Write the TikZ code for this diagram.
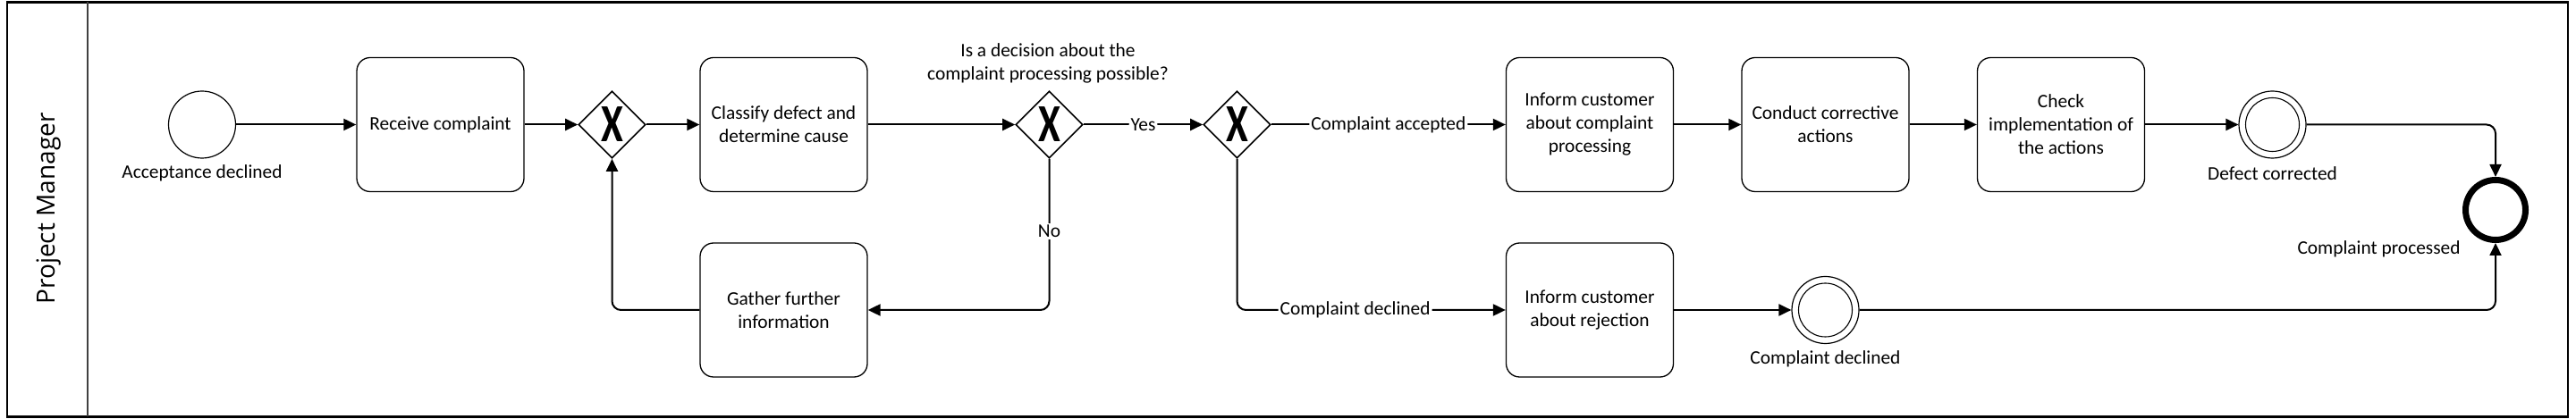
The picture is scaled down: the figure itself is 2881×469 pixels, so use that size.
\documentclass[tikz,border=0pt]{standalone}
\usepackage{fontspec}
\usepackage{graphicx}
\setmainfont{Carlito}
\newfontfamily\lanefont{Open Sans}
\usetikzlibrary{shapes.geometric,arrows.meta}
\newcommand{\xmark}{\scalebox{0.75}[1]{\fontsize{30}{30}\selectfont\bfseries X}}
\tikzset{
  task/.style={draw, rounded corners=7.5pt, minimum width=93.5pt, minimum height=75pt,
    align=center, line width=0.65pt, inner sep=2pt},
  gw/.style={diamond, draw, line width=0.8pt, minimum width=37.5pt, minimum height=37.5pt,
    inner sep=0pt, label={[inner sep=0pt]center:\xmark}},
  startev/.style={circle, draw, line width=0.6pt, minimum size=37.5pt, inner sep=0pt},
  interev/.style={circle, draw, line width=0.6pt, minimum size=37.5pt, inner sep=0pt,
    path picture={\draw[line width=0.55pt] (path picture bounding box.center) circle (15pt);}},
  endev/.style={circle, draw, line width=3.5pt, minimum size=33.5pt, inner sep=0pt},
  flow/.style={-{Triangle[length=7pt,width=6.5pt]}, line width=1pt, rounded corners=5pt},
  elabel/.style={fill=white, inner sep=1pt},
  txt/.style={inner sep=0pt, align=center}
}
\begin{document}
\begin{tikzpicture}[x=0.5pt,y=-0.5pt,font=\fontsize{10.7pt}{13pt}\selectfont]
\useasboundingbox (0,0) rectangle (2881,469);
% pool / lane
\draw[line width=1.25pt] (8,2.5) rectangle (2872,466.5);
\draw[line width=1pt, black!75] (98,2.5) -- (98,466.5);
\node[rotate=90, font=\lanefont\fontsize{14pt}{16pt}\selectfont] (lane) at (55,233.5) {Project Manager};

% nodes
\node[startev] (start) at (226,139.5) {};
\node[txt] (lstart) at (226,194) {Acceptance declined};
\node[task] (receive) at (492.5,139.5) {Receive complaint};
\node[gw] (gw1) at (684.5,139.5) {};
\node[task] (classify) at (876.5,139.5) {Classify defect and\\determine cause};
\node[task] (gather) at (876.5,347) {Gather further\\information};
\node[gw] (gw2) at (1173.5,139.5) {};
\node[txt] (q) at (1172,71) {Is a decision about the\\complaint processing possible?};
\node[gw] (gw3) at (1383.5,139.5) {};
\node[task] (inform1) at (1778,139.5) {Inform customer\\about complaint\\processing};
\node[task] (conduct) at (2041.5,139.5) {Conduct corrective\\actions};
\node[task] (check) at (2305,139.5) {Check\\implementation of\\the actions};
\node[interev] (defect) at (2541.5,139.5) {};
\node[txt] (ldefect) at (2541.5,194) {Defect corrected};
\node[endev] (endev) at (2791,235) {};
\node[txt, anchor=east] (lend) at (2752,279) {Complaint processed};
\node[task] (inform2) at (1778,347) {Inform customer\\about rejection};
\node[interev] (cdecl) at (2041.5,347) {};
\node[txt] (lcdecl) at (2041.5,402) {Complaint declined};

% flows
\draw[flow] (start) -- (receive);
\draw[flow] (receive) -- (gw1);
\draw[flow] (gw1) -- (classify);
\draw[flow] (classify) -- (gw2);
\draw[flow] (gw2) -- node[elabel] {Yes} (gw3);
\draw[flow] (gw2) |- node[elabel, pos=0.24] {No} (gather);
\draw[flow] (gather) -| (gw1);
\draw[flow] (gw3) -- node[elabel] {Complaint accepted} (inform1);
\draw[flow] (gw3) |- node[elabel, pos=0.72] {Complaint declined} (inform2);
\draw[flow] (inform1) -- (conduct);
\draw[flow] (conduct) -- (check);
\draw[flow] (check) -- (defect);
\draw[flow] (defect) -| (endev);
\draw[flow] (inform2) -- (cdecl);
\draw[flow] (cdecl) -| (endev);
\end{tikzpicture}
\end{document}
